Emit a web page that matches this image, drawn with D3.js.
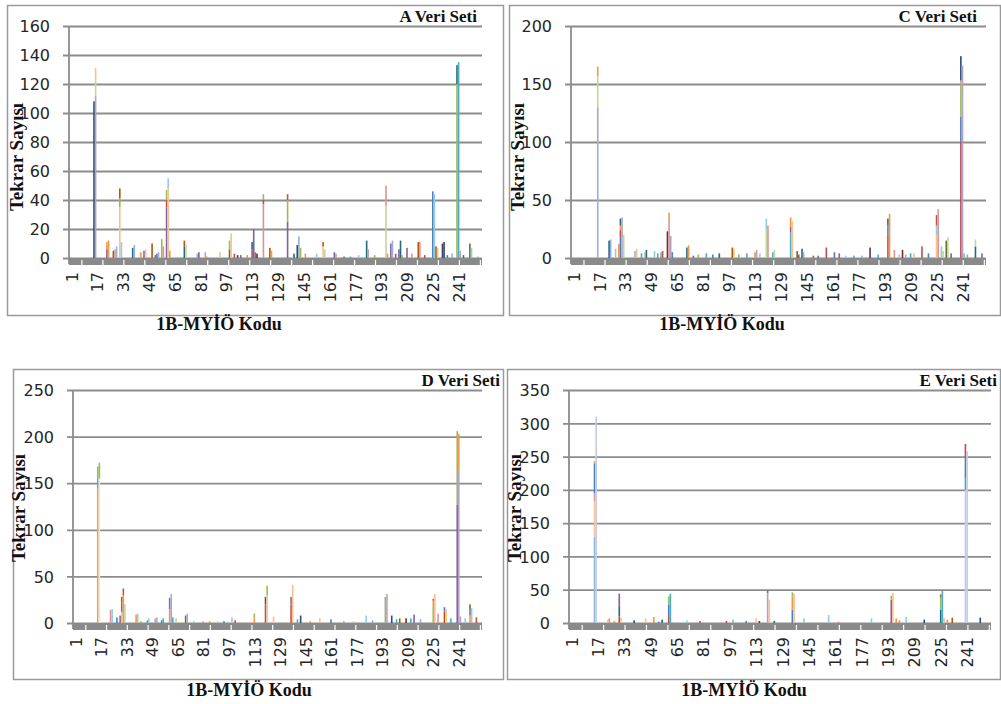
<!DOCTYPE html>
<html>
<head>
<meta charset="utf-8">
<script src="https://cdn.jsdelivr.net/npm/d3@7"></script>
<style>
  body { margin: 0; background: #fff; }
  .tick-lab { font-family: "DejaVu Sans", sans-serif; font-size: 16px; fill: #262626; }
  .serif { font-family: "Liberation Serif", "Times New Roman", serif; font-weight: bold; fill: #111; }
</style>
</head>
<body>
<script>
// Chart data: every panel has its category codes and stacked parts [series, value]
var xTicks = [1, 17, 33, 49, 65, 81, 97, 113, 129, 145, 161, 177, 193, 209, 225, 241];

var yTicksA = [0, 20, 40, 60, 80, 100, 120, 140, 160];
var yTicksC = [0, 50, 100, 150, 200];
var yTicksD = [0, 50, 100, 150, 200, 250];
var yTicksE = [0, 50, 100, 150, 200, 250, 300, 350];

var codesA = [16, 17, 24, 25, 28, 29, 30, 32, 33, 40, 41, 45, 47, 48, 52, 54, 55, 56, 58, 59, 61, 62, 63, 72, 73,
    80, 81, 85, 86, 94, 100, 101, 103, 105, 107, 111, 114, 115, 116, 117, 121, 125, 126, 136, 140, 142, 143, 144,
    147, 154, 158, 159, 165, 166, 171, 175, 180, 185, 186, 190, 197, 198, 200, 201, 203, 205, 206, 207, 210, 213,
    217, 218, 221, 226, 227, 228, 229, 232, 233, 235, 238, 241, 242, 243, 245, 249, 250, 254];
var partsA = [[[6, 108]], [[15, 112], [14, 10], [17, 9]], [[3, 6], [5, 5]], [[5, 12]], [[11, 5]], [[13, 6]], [[12, 8]],
    [[17, 35], [2, 6], [11, 7]], [[16, 11]], [[10, 7]], [[12, 9]], [[5, 4]], [[3, 5]], [[17, 6]], [[11, 10]], [[3, 2]],
    [[0, 3]], [[15, 4]], [[2, 13]], [[13, 8]], [[3, 35], [1, 5], [2, 7]], [[17, 48], [16, 7]], [[5, 5]],
    [[10, 8], [11, 4]], [[14, 9]], [[12, 3]], [[3, 4]], [[15, 4]], [[5, 1]], [[17, 4]], [[8, 6], [2, 6]], [[17, 17]],
    [[1, 3]], [[9, 2]], [[3, 2]], [[2, 2]], [[1, 6], [10, 5]], [[3, 20]], [[0, 4]], [[7, 3]], [[13, 37], [1, 3], [2, 4]],
    [[11, 7]], [[5, 5]], [[3, 25], [2, 15], [1, 4]], [[10, 3]], [[6, 9]], [[12, 15]], [[2, 7]], [[5, 3]], [[16, 3]],
    [[17, 8], [11, 3]], [[14, 6]], [[3, 4]], [[13, 3]], [[3, 1]], [[4, 1]], [[16, 2]], [[10, 12]], [[15, 6]], [[2, 2]],
    [[14, 36], [13, 14]], [[5, 3]], [[3, 10]], [[12, 12]], [[1, 3]], [[3, 6]], [[10, 12]], [[2, 2]], [[3, 7]], [[5, 3]],
    [[11, 11]], [[13, 11]], [[1, 2]], [[0, 46]], [[16, 44]], [[11, 8]], [[14, 7]], [[9, 10]], [[6, 11]], [[0, 2]],
    [[12, 3]], [[2, 120], [10, 13]], [[4, 135]], [[15, 5]], [[8, 2]], [[8, 10]], [[16, 7]], [[12, 1]]];

var codesC = [17, 24, 25, 28, 30, 31, 32, 33, 40, 41, 44, 46, 47, 52, 54, 56, 57, 60, 61, 62, 63, 72, 73, 76, 79, 84,
    88, 92, 100, 101, 104, 109, 114, 115, 117, 121, 122, 125, 126, 136, 137, 140, 141, 143, 144, 150, 153, 158, 163,
    166, 170, 175, 180, 185, 190, 196, 197, 200, 203, 205, 207, 210, 212, 217, 221, 226, 227, 229, 230, 232, 233,
    235, 241, 242, 243, 245, 250, 254];
var partsC = [[[12, 100], [15, 30], [14, 27], [5, 8]], [[10, 15]], [[12, 16]], [[16, 8]], [[5, 12]],
    [[0, 18], [1, 6], [5, 4], [10, 6]], [[15, 35]], [[14, 20]], [[12, 6]], [[17, 8]], [[4, 4]], [[14, 5]], [[10, 7]],
    [[16, 6]], [[4, 4]], [[12, 5]], [[1, 6]], [[7, 23]], [[13, 34], [5, 5]], [[15, 19]], [[0, 5]], [[10, 9]], [[5, 11]],
    [[3, 2]], [[2, 3]], [[4, 4]], [[0, 3]], [[10, 4]], [[11, 9]], [[14, 8]], [[2, 3]], [[4, 4]], [[5, 5]], [[15, 7]],
    [[16, 4]], [[14, 25], [16, 9]], [[13, 28]], [[4, 5]], [[14, 7]], [[4, 22], [3, 5], [5, 8]], [[17, 32]], [[8, 6]],
    [[1, 3]], [[10, 8]], [[12, 5]], [[1, 2]], [[3, 2]], [[1, 9]], [[0, 5]], [[1, 4]], [[16, 2]], [[4, 2]], [[12, 2]],
    [[9, 9]], [[4, 3]], [[1, 20], [0, 8], [10, 6]], [[5, 38]], [[13, 7]], [[16, 3]], [[7, 7]], [[12, 3]], [[4, 4]],
    [[17, 4]], [[1, 10]], [[0, 4]], [[17, 20], [16, 8], [1, 9]], [[13, 42]], [[16, 10]], [[14, 6]], [[8, 15]],
    [[14, 18]], [[3, 4]], [[1, 100], [0, 22], [2, 28], [5, 3], [6, 21]], [[15, 166]], [[12, 4]], [[2, 3]],
    [[10, 10], [14, 6]], [[3, 4]]];

var codesD = [16, 17, 24, 25, 28, 30, 31, 32, 33, 40, 41, 43, 47, 48, 52, 53, 56, 57, 61, 62, 63, 65, 71, 72, 76, 82,
    86, 91, 95, 100, 102, 114, 121, 122, 126, 137, 138, 141, 143, 149, 155, 162, 170, 176, 184, 188, 196, 197, 200,
    203, 205, 209, 212, 214, 218, 226, 227, 229, 233, 234, 237, 241, 242, 243, 246, 249, 250, 253];
var partsD = [[[5, 145], [4, 10], [2, 13]], [[19, 155], [2, 17]], [[13, 14]], [[16, 15]], [[0, 6]], [[3, 8]],
    [[17, 12], [3, 10], [11, 6]], [[5, 30], [1, 7]], [[14, 20]], [[5, 9]], [[16, 10]], [[2, 2]], [[4, 3]], [[16, 5]],
    [[13, 5]], [[12, 6]], [[0, 3]], [[4, 5]], [[5, 15], [0, 12]], [[15, 31]], [[4, 6]], [[14, 5]], [[11, 8]], [[12, 10]],
    [[16, 2]], [[13, 2]], [[5, 2]], [[14, 2]], [[0, 2]], [[16, 6]], [[1, 3]], [[5, 6], [2, 4]], [[1, 20], [10, 8]],
    [[17, 30], [2, 10]], [[17, 7]], [[1, 20], [3, 8]], [[17, 41]], [[4, 4]], [[6, 8]], [[5, 2]], [[17, 5]], [[0, 4]],
    [[13, 2]], [[14, 2]], [[16, 8]], [[12, 3]], [[2, 28]], [[15, 31]], [[6, 8]], [[4, 4]], [[11, 5]], [[7, 5]], [[4, 5]],
    [[3, 9]], [[12, 4]], [[2, 18], [5, 6], [1, 2]], [[17, 31]], [[13, 10]], [[11, 12], [0, 5]], [[17, 15]], [[4, 5]],
    [[3, 127], [2, 79]], [[15, 165], [5, 38]], [[15, 7]], [[16, 5]], [[5, 8], [3, 7], [8, 5]], [[16, 16]], [[1, 6]]];

var codesE = [16, 17, 24, 25, 28, 31, 32, 40, 47, 52, 55, 57, 61, 62, 72, 80, 96, 100, 108, 114, 116, 121, 122, 125,
    136, 137, 143, 158, 164, 184, 196, 197, 199, 201, 205, 216, 226, 227, 228, 230, 233, 241, 242, 250];
var partsE = [[[12, 130], [17, 53], [13, 12], [0, 45], [5, 3]], [[18, 310]], [[17, 5]], [[13, 7]], [[5, 3]],
    [[1, 10], [10, 14], [3, 20]], [[17, 8]], [[6, 4]], [[17, 7]], [[5, 9]], [[0, 2]], [[10, 5]],
    [[1, 12], [0, 16], [2, 12]], [[4, 44]], [[16, 4]], [[1, 3]], [[1, 3]], [[12, 5]], [[0, 3]], [[17, 7]], [[6, 3]],
    [[15, 45], [3, 4]], [[17, 35]], [[10, 3]], [[0, 20], [5, 20], [2, 6]], [[17, 44]], [[16, 7]], [[16, 12]], [[13, 2]],
    [[16, 7]], [[3, 35], [2, 6]], [[17, 45]], [[5, 7]], [[13, 4]], [[16, 9]], [[6, 5]], [[10, 20], [2, 18], [1, 5]],
    [[4, 48]], [[17, 8]], [[13, 5]], [[11, 8]], [[18, 200], [4, 17], [0, 31], [1, 21]], [[18, 258]], [[6, 8]]];

// Excel-ish series palette
var palette = ['#4F81BD', '#C0504D', '#9BBB59', '#8064A2', '#4BACC6', '#F79646', '#2C4D75', '#772C2A', '#5F7530',
    '#4D3B62', '#276A7C', '#B65708', '#95B3D7', '#D99694', '#C3D69B', '#B3A2C7', '#93CDDD', '#FAC090', '#C5CAE6',
    '#E3EAD5'];

var width = 1001, height = 704;
var svg = d3.select("body").append("svg")
    .attr("width", width)
    .attr("height", height);

var panels = [
    { title: "A Veri Seti", codes: codesA, parts: partsA, ticks: yTicksA,
      box: [7, 5, 503, 315], x0: 69, x1: 482, yTop: 26, yZero: 258,
      titleX: 477, titleY: 22, yLab: [23, 157], xLab: [219, 330] },
    { title: "C Veri Seti", codes: codesC, parts: partsC, ticks: yTicksC,
      box: [509, 5, 1000, 315], x0: 571, x1: 986, yTop: 26, yZero: 258,
      titleX: 977, titleY: 22, yLab: [524, 157], xLab: [722, 330] },
    { title: "D Veri Seti", codes: codesD, parts: partsD, ticks: yTicksD,
      box: [13, 369, 503, 679], x0: 73, x1: 482, yTop: 390, yZero: 623,
      titleX: 500, titleY: 386, yLab: [25, 508], xLab: [249, 696] },
    { title: "E Veri Seti", codes: codesE, parts: partsE, ticks: yTicksE,
      box: [507, 369, 1000, 679], x0: 569, x1: 991, yTop: 390, yZero: 623,
      titleX: 997, titleY: 386, yLab: [521, 508], xLab: [744, 696] }
];

var categories = d3.range(1, 257);

panels.forEach(drawPanel);

function drawPanel(p) {
    var g = svg.append('g');

    // outer frame
    g.append('rect')
        .attr('x', p.box[0] + 0.5).attr('y', p.box[1] + 0.5)
        .attr('width', p.box[2] - p.box[0]).attr('height', p.box[3] - p.box[1])
        .attr('fill', 'none').attr('stroke', '#9a9a9a').attr('stroke-width', 1.5);

    var x = d3.scaleBand()
        .domain(categories)
        .range([p.x0, p.x1]);
    var y = d3.scaleLinear()
        .domain([0, d3.max(p.ticks)])
        .range([p.yZero, p.yTop]);

    // gridlines + y labels (tick lines run to the right across the plot)
    var yAxis = d3.axisLeft(y)
        .tickValues(p.ticks)
        .tickSize(-(p.x1 - p.x0) - 6)
        .tickFormat(d3.format('d'));
    var ya = g.append('g')
        .attr('transform', 'translate(' + (p.x0 - 6) + ',0)')
        .call(yAxis);
    ya.select('.domain').remove();
    ya.selectAll('line')
        .attr('stroke', '#8c8c8c').attr('stroke-width', 1.8);
    ya.selectAll('text')
        .attr('class', 'tick-lab')
        .attr('x', -13)
        .attr('dy', '0.36em');

    // vertical axis line
    g.append('line')
        .attr('x1', p.x0).attr('x2', p.x0)
        .attr('y1', p.yTop).attr('y2', p.yZero + 6)
        .attr('stroke', '#8c8c8c').attr('stroke-width', 1.8);

    // dense category tick marks form the grey band
    g.append('rect')
        .attr('x', p.x0).attr('y', p.yZero)
        .attr('width', p.x1 - p.x0).attr('height', 7)
        .attr('fill', '#8a8a8a');
    g.append('g').selectAll('line')
        .data(categories.filter(function(c) { return c % 13 === 9; }))
        .enter().append('line')
        .attr('x1', function(c) { return x(c); })
        .attr('x2', function(c) { return x(c); })
        .attr('y1', p.yZero + 2).attr('y2', p.yZero + 7)
        .attr('stroke', '#fff').attr('stroke-width', 1.2);

    // stacked bars
    var bars = g.append('g');
    p.codes.forEach(function(code, i) {
        var base = 0;
        p.parts[i].forEach(function(part) {
            bars.append('rect')
                .attr('x', x(code))
                .attr('width', x.bandwidth())
                .attr('y', y(base + part[1]))
                .attr('height', y(base) - y(base + part[1]))
                .attr('fill', palette[part[0]]);
            base += part[1];
        });
    });

    // x labels, rotated
    g.append('g').selectAll('text')
        .data(xTicks)
        .enter().append('text')
        .attr('class', 'tick-lab')
        .attr('transform', function(d) {
            return 'translate(' + (x(d) + x.bandwidth() / 2 + 2) + ',' + (p.yZero + 14) + ') rotate(-90)';
        })
        .attr('dy', '0.36em')
        .attr('text-anchor', 'end')
        .text(function(d) { return d; });

    // titles
    g.append('text').attr('class', 'serif')
        .attr('x', p.titleX).attr('y', p.titleY)
        .attr('text-anchor', 'end')
        .style('font-size', '17px')
        .text(p.title);
    g.append('text').attr('class', 'serif')
        .attr('transform', 'translate(' + p.yLab[0] + ',' + p.yLab[1] + ') rotate(-90)')
        .attr('text-anchor', 'middle')
        .style('font-size', '19px')
        .text('Tekrar Sayısı');
    g.append('text').attr('class', 'serif')
        .attr('x', p.xLab[0]).attr('y', p.xLab[1])
        .attr('text-anchor', 'middle')
        .style('font-size', '18px')
        .text('1B-MYİÖ Kodu');
}
</script>
</body>
</html>
